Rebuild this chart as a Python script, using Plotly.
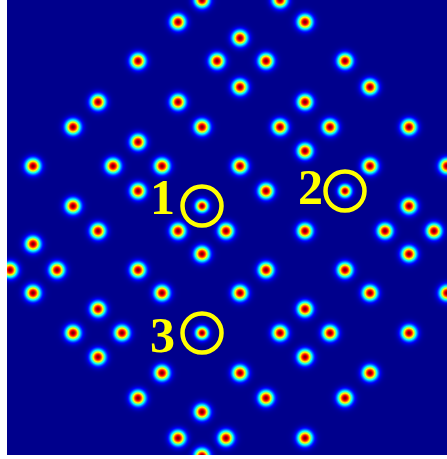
import numpy as np
import plotly.graph_objects as go

# Spot centres (image pixel coordinates)
spot_x = [202, 280, 178, 305, 240, 138, 217, 266, 345, 240, 370,
          98, 178, 305, 73, 202, 280, 330, 409, 138, 305,
          33, 113, 162, 240, 370, 447, 138, 266, 345,
          73, 202, 409, 98, 178, 226, 305, 385, 434, 33,
          202, 409, 10, 57, 138, 266, 345, 33, 162, 240, 370, 447,
          98, 305, 73, 122, 202, 280, 330, 409, 98, 305,
          162, 240, 370, 138, 266, 345, 202, 178, 226, 305, 202]
spot_y = [0, 0, 22, 22, 38, 61, 61, 61, 61, 87, 87,
          102, 102, 102, 127, 127, 127, 127, 127, 142, 151,
          166, 166, 166, 166, 166, 166, 191, 191, 191,
          206, 206, 206, 231, 231, 231, 231, 231, 231, 244,
          254, 254, 270, 270, 270, 270, 270, 293, 293, 293, 293, 293,
          309, 309, 333, 333, 333, 333, 333, 333, 357, 357,
          373, 373, 373, 398, 398, 398, 412, 438, 438, 438, 456]

# Marked spots
marked_x = [202, 345, 202]
marked_y = [206, 191, 333]
label_text = ["1", "2", "3"]
label_x = [162, 310, 162]
label_y = [197, 187, 335]

SIGMA = 5.0
SIGMA_MARKED = 4.2
CIRCLE_R = 19.5

xs = np.arange(7.5, 447, 1.0)
ys = np.arange(0.5, 455, 1.0)
X, Y = np.meshgrid(xs, ys)
Z = np.zeros_like(X)
marked = set(zip(marked_x, marked_y))
for sx, sy in zip(spot_x, spot_y):
    s = SIGMA_MARKED if (sx, sy) in marked else SIGMA
    Z = np.maximum(Z, np.exp(-((X - sx) ** 2 + (Y - sy) ** 2) / (2 * s * s)))
Z = Z.astype(np.float32)

jet = [[0.0, "rgb(0,0,140)"], [0.125, "rgb(0,0,255)"], [0.375, "rgb(0,255,255)"],
       [0.625, "rgb(255,255,0)"], [0.875, "rgb(255,0,0)"], [1.0, "rgb(128,0,0)"]]

fig = go.Figure(go.Heatmap(x=xs, y=ys, z=Z, colorscale=jet, zmin=0, zmax=1,
                           showscale=False, hoverinfo="skip"))

for cx, cy in zip(marked_x, marked_y):
    fig.add_shape(type="circle", xref="x", yref="y",
                  x0=cx - CIRCLE_R, x1=cx + CIRCLE_R, y0=cy - CIRCLE_R, y1=cy + CIRCLE_R,
                  line=dict(color="#FFFF00", width=4.5))

for t, lx, ly in zip(label_text, label_x, label_y):
    fig.add_annotation(x=lx, y=ly, xref="x", yref="y", text=t, showarrow=False,
                       font=dict(family="Liberation Serif", size=50, color="#FFFF00",
                                 weight="bold"),
                       xanchor="center", yanchor="middle")

fig.update_layout(
    width=447, height=459,
    margin=dict(l=7, r=0, t=0, b=4),
    paper_bgcolor="white", plot_bgcolor="rgb(0,0,140)",
    xaxis=dict(range=[7, 447], visible=False, showgrid=False, zeroline=False),
    yaxis=dict(range=[455, 0], visible=False, showgrid=False, zeroline=False),
    showlegend=False,
)
fig.write_html("out.html", config={"displayModeBar": False},
               post_script="document.body.style.margin='0';")
